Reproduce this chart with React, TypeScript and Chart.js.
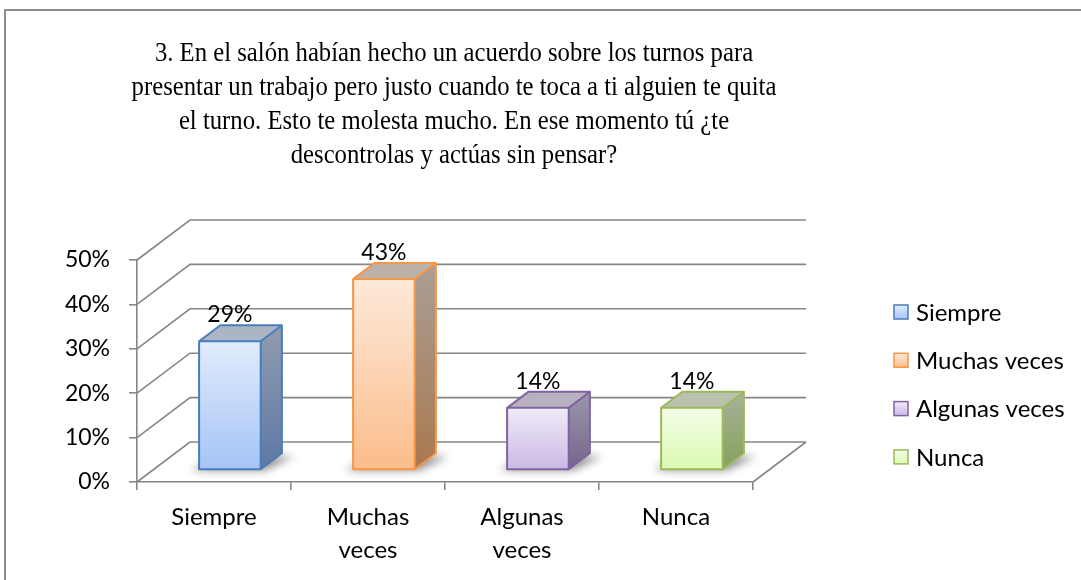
import React, { useEffect, useRef } from "react";
import { Chart, registerables } from "chart.js";

Chart.register(...registerables);

const TITLE_LINES = [
  "3. En el salón habían hecho un acuerdo sobre los turnos para",
  "presentar un trabajo pero justo cuando te toca a ti alguien te quita",
  "el turno. Esto te molesta mucho. En ese momento tú ¿te",
  "descontrolas y actúas sin pensar?",
];
const CATEGORY_NAMES = ["Siempre", "Muchas veces", "Algunas veces", "Nunca"];
const VALUES = [0.29, 0.43, 0.14, 0.14];
const VALUE_LABELS = ["29%", "43%", "14%", "14%"];
const Y_MAX = 0.5;
const Y_STEP = 0.1;

const BORDER_COLORS = ["#4a7ebb", "#f79646", "#8064a2", "#9bbb59"];
const FRONT_TOP = ["#e2ecfc", "#fde9d9", "#f0eaf8", "#f4fde8"];
const FRONT_BOTTOM = ["#a5c4f6", "#fbbd8b", "#cbbae5", "#dbf9b2"];
const SIDE_TOP = ["#909cb0", "#aa9e96", "#9c97a8", "#a8b19c"];
const SIDE_BOTTOM = ["#5e78a5", "#a9794f", "#73658f", "#87a15a"];
const TOP_FACE = ["#abb5c6", "#bdb1a7", "#b6b0bf", "#bac1af"];

const SANS = "Lato, 'Open Sans', sans-serif";
const SERIF = "'Liberation Serif', 'DejaVu Serif', serif";
const GRID = "#868686";
const DX = 53;
const DY = -40;

const threeD = {
  id: "threeD",
  beforeDraw(chart: any) {
    const ctx = chart.ctx;
    ctx.save();
    ctx.fillStyle = "#ffffff";
    ctx.fillRect(0, 0, chart.width, chart.height);
    ctx.strokeStyle = "#8c8c8c";
    ctx.lineWidth = 2;
    ctx.beginPath();
    ctx.moveTo(5, chart.height + 2);
    ctx.lineTo(5, 10);
    ctx.lineTo(chart.width + 2, 10);
    ctx.stroke();

    // title (slightly condensed serif)
    ctx.fillStyle = "#000";
    ctx.font = "27px " + SERIF;
    ctx.textAlign = "center";
    ctx.textBaseline = "alphabetic";
    TITLE_LINES.forEach((t, i) => {
      ctx.save();
      ctx.translate(454, 61 + i * 34);
      ctx.scale(0.915, 1);
      ctx.fillText(t, 0, 0);
      ctx.restore();
    });

    // walls
    const { left, right, bottom } = chart.chartArea;
    const y = chart.scales.y;
    ctx.strokeStyle = GRID;
    ctx.lineWidth = 1.6;
    y.ticks.forEach((tk: any) => {
      const yf = y.getPixelForValue(tk.value);
      ctx.beginPath();
      ctx.moveTo(left, yf);
      ctx.lineTo(left + DX, yf + DY);
      ctx.lineTo(right + DX, yf + DY);
      ctx.stroke();
    });
    ctx.beginPath();
    ctx.moveTo(right, bottom);
    ctx.lineTo(right + DX, bottom + DY);
    ctx.stroke();

    // legend
    ctx.font = "24px " + SANS;
    ctx.textAlign = "left";
    ctx.textBaseline = "middle";
    CATEGORY_NAMES.forEach((name, i) => {
      const cy = 312 + i * 48.3;
      const g = ctx.createLinearGradient(0, cy - 7, 0, cy + 7);
      g.addColorStop(0, FRONT_TOP[i]);
      g.addColorStop(1, FRONT_BOTTOM[i]);
      ctx.fillStyle = g;
      ctx.fillRect(894, cy - 7, 14, 14);
      ctx.strokeStyle = BORDER_COLORS[i];
      ctx.lineWidth = 1.5;
      ctx.strokeRect(894, cy - 7, 14, 14);
      ctx.fillStyle = "#000";
      ctx.fillText(name, 916, cy + 1);
    });
    ctx.restore();
  },
  afterDatasetsDraw(chart: any) {
    const ctx = chart.ctx;
    const meta = chart.getDatasetMeta(0);
    ctx.save();
    meta.data.forEach((el: any, i: number) => {
      const w = el.width;
      const x0 = el.x - w / 2 + 0.3 * DX;
      const x1 = x0 + w;
      const yt = el.y + 0.3 * DY;
      const yb = el.base + 0.3 * DY;
      const bx = 0.4 * DX;
      const by = 0.4 * DY;

      // shadow
      ctx.save();
      ctx.filter = "blur(4px)";
      ctx.fillStyle = "rgba(0,0,0,0.45)";
      ctx.beginPath();
      ctx.moveTo(x0 - 8, yb + 1);
      ctx.lineTo(x1 + 4, yb + 1);
      ctx.lineTo(x1 + bx + 12, yb + by + 3);
      ctx.lineTo(x0 + bx, yb + by + 3);
      ctx.closePath();
      ctx.fill();
      ctx.restore();

      // side
      const gs = ctx.createLinearGradient(0, yt + by, 0, yb);
      gs.addColorStop(0, SIDE_TOP[i]);
      gs.addColorStop(1, SIDE_BOTTOM[i]);
      ctx.fillStyle = gs;
      ctx.beginPath();
      ctx.moveTo(x1, yt);
      ctx.lineTo(x1 + bx, yt + by);
      ctx.lineTo(x1 + bx, yb + by);
      ctx.lineTo(x1, yb);
      ctx.closePath();
      ctx.fill();
      // top
      ctx.fillStyle = TOP_FACE[i];
      ctx.beginPath();
      ctx.moveTo(x0, yt);
      ctx.lineTo(x0 + bx, yt + by);
      ctx.lineTo(x1 + bx, yt + by);
      ctx.lineTo(x1, yt);
      ctx.closePath();
      ctx.fill();
      // front
      const gf = ctx.createLinearGradient(0, yt, 0, yb);
      gf.addColorStop(0, FRONT_TOP[i]);
      gf.addColorStop(1, FRONT_BOTTOM[i]);
      ctx.fillStyle = gf;
      ctx.fillRect(x0, yt, w, yb - yt);

      // outlines
      ctx.strokeStyle = BORDER_COLORS[i];
      ctx.lineWidth = 2;
      ctx.lineJoin = "round";
      ctx.beginPath();
      ctx.moveTo(x0, yb);
      ctx.lineTo(x0, yt);
      ctx.lineTo(x0 + bx, yt + by);
      ctx.lineTo(x1 + bx, yt + by);
      ctx.lineTo(x1 + bx, yb + by);
      ctx.lineTo(x1, yb);
      ctx.closePath();
      ctx.moveTo(x0, yt);
      ctx.lineTo(x1, yt);
      ctx.lineTo(x1 + bx, yt + by);
      ctx.moveTo(x1, yt);
      ctx.lineTo(x1, yb);
      ctx.stroke();

      // value label
      ctx.fillStyle = "#000";
      ctx.font = "23px " + SANS;
      ctx.textAlign = "center";
      ctx.textBaseline = "alphabetic";
      ctx.fillText(VALUE_LABELS[i], (x0 + x1) / 2, yt + by - 3);
    });
    ctx.restore();
  },
};

export default function App() {
  const ref = useRef<HTMLCanvasElement>(null);
  useEffect(() => {
    if (!ref.current) return;
    const chart = new Chart(ref.current, {
      type: "bar",
      data: {
        labels: CATEGORY_NAMES.map((n) => n.split(" ")),
        datasets: [
          {
            data: VALUES,
            backgroundColor: "rgba(0,0,0,0)",
            borderWidth: 0,
            barPercentage: 0.4,
            categoryPercentage: 1,
          },
        ],
      },
      options: {
        animation: false,
        responsive: false,
        devicePixelRatio: 1,
        layout: { padding: { left: 37, right: 328, top: 260, bottom: 0 } },
        plugins: {
          legend: { display: false },
          title: { display: false },
          tooltip: { enabled: false },
        },
        scales: {
          x: {
            afterFit: (s: any) => {
              s.height = 98;
            },
            grid: {
              offset: true,
              drawOnChartArea: false,
              drawTicks: true,
              tickLength: 8,
              color: GRID,
              lineWidth: 1.6,
            },
            border: { display: true, color: GRID, width: 1.6 },
            ticks: {
              color: "#000",
              font: { family: SANS, size: 24, lineHeight: 1.36 },
              padding: 11,
              maxRotation: 0,
              autoSkip: false,
            },
          },
          y: {
            min: 0,
            max: Y_MAX,
            afterFit: (s: any) => {
              s.width = 100;
            },
            grid: {
              drawOnChartArea: false,
              drawTicks: true,
              tickLength: 8,
              color: GRID,
              lineWidth: 1.6,
            },
            border: { display: true, color: GRID, width: 1.6 },
            ticks: {
              stepSize: Y_STEP,
              color: "#000",
              font: { family: SANS, size: 23 },
              padding: 19,
              callback: (v: any) => Math.round(Number(v) * 100) + "%",
            },
          },
        },
      },
      plugins: [threeD],
    });
    return () => chart.destroy();
  }, []);
  return (
    <div style={{ position: "absolute", left: 0, top: 0, width: 1081, height: 580 }}>
      <canvas ref={ref} width={1081} height={580} />
    </div>
  );
}
